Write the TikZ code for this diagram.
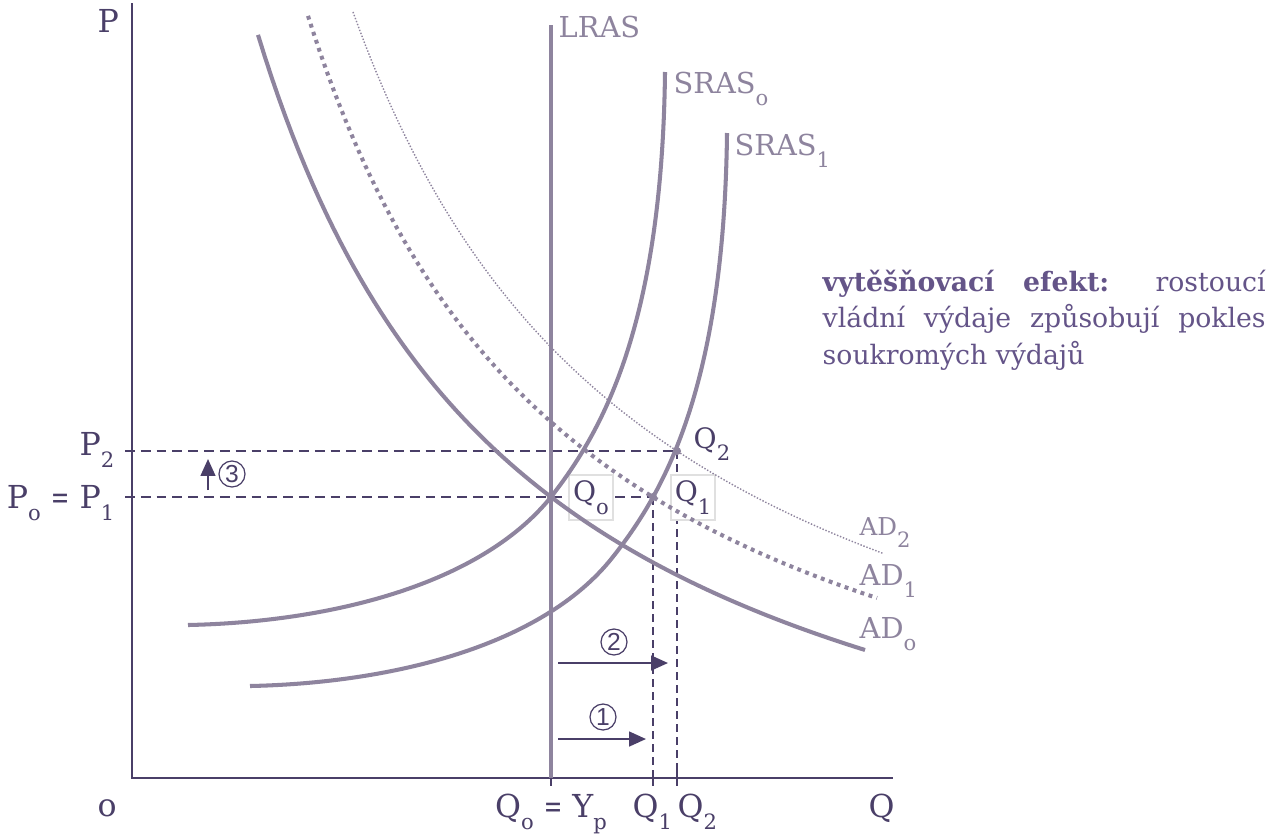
\documentclass[tikz,border=0pt]{standalone}
\usepackage{fontspec}
\usepackage{graphicx}
\setmainfont{DejaVu Serif}
\newfontfamily\stepfont{Liberation Sans}
\usetikzlibrary{arrows.meta,positioning}

\definecolor{axiscol}{RGB}{74,63,104}
\definecolor{curvecol}{RGB}{142,132,158}
\definecolor{textcol}{RGB}{100,84,136}

\newcommand{\lowsub}[1]{\raisebox{-3.6pt}{\fontsize{6}{6}\selectfont #1}}
\newcommand{\narroweq}{\scalebox{0.7}[1]{=}}
\newcommand{\axlabfont}{\fontsize{9}{9}\selectfont}
\newcommand{\curvelabfont}{\fontsize{8.2}{9}\selectfont}

\begin{document}
\begin{tikzpicture}[x=0.1mm,y=-0.1mm,
  aggcurve/.style={curvecol,line width=1.15pt},
  axisline/.style={axiscol,line width=0.6pt},
  axtick/.style={axiscol,line width=0.5pt},
  pguide/.style={axiscol,line width=0.55pt,dash pattern=on 2.8pt off 1.7pt},
  vguide/.style={axiscol,line width=0.4pt,dash pattern=on 2.3pt off 1.4pt},
  shiftarrow/.style={-{Triangle[length=4.8pt,width=4.2pt]},axiscol,line width=0.55pt},
  stepno/.style={circle,draw=axiscol,line width=0.35pt,inner sep=0pt,minimum size=2.6mm,
    text=axiscol,font=\stepfont\fontsize{7}{7}\selectfont},
  curvelab/.style={anchor=base west,inner sep=0pt,text=curvecol,font=\curvelabfont},
  axlab/.style={anchor=base west,inner sep=0pt,text=axiscol,font=\axlabfont},
  inlab/.style={inner sep=0pt,text=axiscol,font=\fontsize{8}{8}\selectfont},
  qbox/.style={fill=white,draw=black!12,line width=0.3pt,minimum width=4.4mm,minimum height=4.5mm},
  eqdot/.style={circle,fill=curvecol,inner sep=0pt,minimum size=2.3pt},
]
  \path[fill=white] (0,0) rectangle (1276,836);
  \useasboundingbox (0,0) rectangle (1276,836);

  % key points
  \coordinate (O) at (132,778);
  \coordinate (ytop) at (132,3);
  \coordinate (xend) at (893,778);
  \coordinate (e0) at (551,497);
  \coordinate (e1) at (653,497);
  \coordinate (e2) at (677,451);
  \coordinate (p1) at (125,497);
  \coordinate (p2) at (125,451);
  \coordinate (q1) at (653,778);
  \coordinate (q2) at (677,778);
  \coordinate (lrastop) at (551,25);
  \coordinate (lrasbot) at (551,778);

  % dashed guides
  \draw[pguide] (p2) -- (e2);
  \draw[pguide] (p1) -- (e1);
  \draw[vguide] (e1) -- (q1);
  \draw[vguide] (e2) -- (q2);

  % label boxes
  \node[qbox] (q0box) at (591,497.5) {};
  \node[qbox] (q1box) at (693,497.5) {};

  % axes
  \draw[axisline] (ytop) -- (O) -- (xend);
  \foreach \q in {lrasbot,q1,q2}
    \draw[axtick] (\q) ++(0,-8) -- ++(0,16);

  % supply
  \draw[aggcurve] (lrastop) -- (lrasbot);
  \draw[aggcurve] (188,625) .. controls (330,622) and (480,585) .. (e0)
    .. controls (600,434) and (662,330) .. (665,72);
  \draw[aggcurve,shift={(62,61)}] (188,625) .. controls (330,622) and (480,585) .. (550,497)
    .. controls (600,434) and (662,330) .. (665,72);

  % demand
  \draw[aggcurve] plot[domain=258:865,samples=90] (\x,{925.1-2417/((\x+13.5)/100)});
  \draw[aggcurve,dash pattern=on 1.1pt off 1.3pt] plot[domain=308:877,samples=90]
    (\x,{876-2337/((\x-36.3)/100)});
  \draw[curvecol,line width=0.4pt,dash pattern=on 0.4pt off 0.5pt] plot[domain=353:883,samples=90]
    (\x,{867-2625/((\x-46)/100)});

  \node[eqdot] at (e0) {};
  \node[eqdot] at (e1) {};
  \node[eqdot] at (e2) {};

  % curve labels
  \node[curvelab] (lraslab) at (558,37) {LRAS};
  \node[curvelab] (sras0lab) at (673,93) {SRAS\lowsub{o}};
  \node[curvelab] (sras1lab) at (734,155) {SRAS\lowsub{1}};
  \node[curvelab,font=\fontsize{7}{8}\selectfont] (ad2lab) at (859,535) {AD\lowsub{2}};
  \node[curvelab] (ad1lab) at (859,585) {AD\lowsub{1}};
  \node[curvelab] (ad0lab) at (859,638) {AD\lowsub{o}};

  % axis labels
  \node[axlab] (plab) at (97,32) {P};
  \node[axlab] (olab) at (97,816) {o};
  \node[axlab] (qlab) at (868,817) {Q};
  \node[axlab,anchor=base east] (p2lab) at (115,455) {P\lowsub{2}};
  \node[axlab,anchor=base east] (p1lab) at (115,508) {P\lowsub{o} \narroweq{} P\lowsub{1}};
  \node[axlab,anchor=base] (q0lab) at (551,817) {Q\lowsub{o} \narroweq{} Y\lowsub{p}};
  \node[axlab] (q1lab) at (632,817) {Q\lowsub{1}};
  \node[axlab] (q2lab) at (677,817) {Q\lowsub{2}};

  % equilibrium labels
  \node[inlab] at (q0box) {Q\lowsub{o}};
  \node[inlab] at (q1box) {Q\lowsub{1}};
  \node[inlab,anchor=base west] (q2in) at (693,448) {Q\lowsub{2}};

  % shifts
  \coordinate (a1s) at (558,739); \coordinate (a1e) at (646,739);
  \coordinate (a2s) at (558,663); \coordinate (a2e) at (668,663);
  \coordinate (a3s) at (208,490); \coordinate (a3e) at (208,459);
  \draw[shiftarrow] (a1s) -- (a1e);
  \draw[shiftarrow] (a2s) -- (a2e);
  \draw[shiftarrow] (a3s) -- (a3e);
  \node[stepno] (n1) at (603,717) {1};
  \node[stepno] (n2) at (614,642) {2};
  \node[stepno] (n3) at (232,474) {3};

  % note
  \node[anchor=north west,text width=4.43cm,align=justify,inner sep=0pt,text=textcol,
    font=\fontsize{7.6}{10.5}\selectfont] (crowd) at (822,269)
    {\textbf{vytěšňovací efekt:} rostoucí\linebreak vládní výdaje způsobují pokles\linebreak soukromých výdajů};
\end{tikzpicture}
\end{document}
